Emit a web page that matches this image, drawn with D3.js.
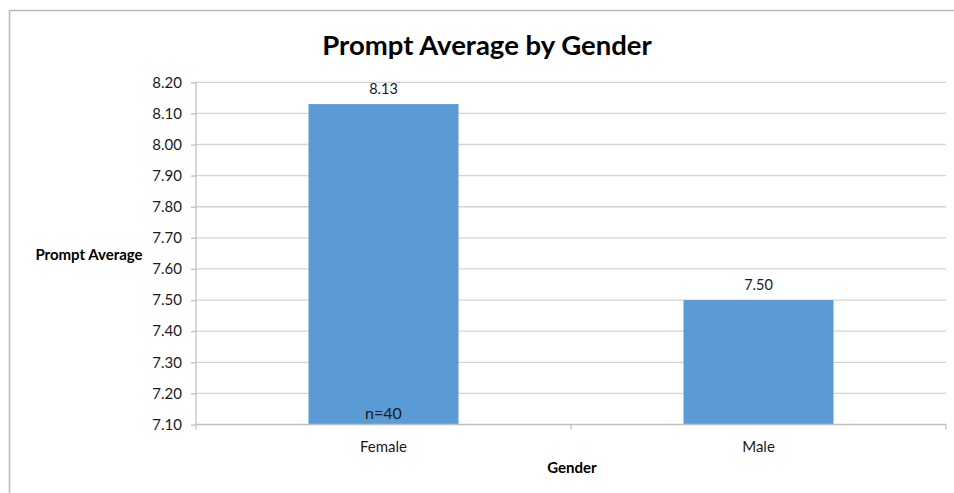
<!DOCTYPE html>
<html>
<head>
<meta charset="utf-8">
<script src="https://cdn.jsdelivr.net/npm/d3@7"></script>
<style>
  html, body { margin: 0; padding: 0; background: #fff; }
  svg { display: block; font-family: Lato, "Open Sans", sans-serif; }
</style>
</head>
<body>
<svg id="chart" width="954" height="493"></svg>
<script>
// Chart data
const categories = ["Female", "Male"];
const averages = [8.13, 7.50];
const valueLabels = ["8.13", "7.50"];
const yTicks = [7.1, 7.2, 7.3, 7.4, 7.5, 7.6, 7.7, 7.8, 7.9, 8.0, 8.1, 8.2];
const notes = ["n=40", ""];

const svg = d3.select("#chart");
const plotLeft = 196, plotRight = 946, plotTop = 82.3, plotBottom = 424.5;

// Outer frame (top and left edges)
svg.append("path")
  .attr("d", "M9.5,493 V10.5 H954")
  .attr("fill", "none")
  .attr("stroke", "#b8b8b8")
  .attr("stroke-width", 1.5);

const x = d3.scaleBand().domain(categories).range([plotLeft, plotRight]).paddingInner(0).paddingOuter(0);
const y = d3.scaleLinear().domain([7.1, 8.2]).range([plotBottom, plotTop]);

// Horizontal gridlines
svg.append("g")
  .selectAll("line")
  .data(yTicks.slice(1))
  .join("line")
  .attr("x1", plotLeft).attr("x2", plotRight)
  .attr("y1", d => y(d)).attr("y2", d => y(d))
  .attr("stroke", "#d4d4d4")
  .attr("stroke-width", 1.3);

// Bars
const barW = x.bandwidth() * 0.4;
svg.append("g")
  .selectAll("rect")
  .data(categories)
  .join("rect")
  .attr("x", d => x(d) + (x.bandwidth() - barW) / 2)
  .attr("width", barW)
  .attr("y", (d, i) => y(averages[i]))
  .attr("height", (d, i) => y(7.1) - y(averages[i]))
  .attr("fill", "#5b9bd5");

// Y axis
const yAxis = svg.append("g")
  .attr("transform", `translate(${plotLeft},0)`)
  .call(d3.axisLeft(y).tickValues(yTicks).tickFormat(d3.format(".2f")).tickSize(5).tickPadding(9));
yAxis.select(".domain").attr("stroke", "#c0c0c0").attr("stroke-width", 1.3).attr("d", `M0,${plotTop}V${plotBottom}`);
yAxis.selectAll(".tick line").attr("stroke", "#c0c0c0").attr("stroke-width", 1.3);
yAxis.selectAll(".tick text").attr("font-size", 15).attr("fill", "#1a1a1a").attr("font-family", "Lato, sans-serif");

// X axis baseline with category separators
const xAxisG = svg.append("g").attr("transform", `translate(0,${plotBottom})`);
xAxisG.append("line").attr("x1", plotLeft).attr("x2", plotRight).attr("y1", 0).attr("y2", 0)
  .attr("stroke", "#c0c0c0").attr("stroke-width", 1.3);
const seps = categories.map(c => x(c)).concat([x(categories[categories.length - 1]) + x.bandwidth()]);
xAxisG.selectAll(".sep").data(seps).join("line")
  .attr("class", "sep")
  .attr("x1", d => d).attr("x2", d => d).attr("y1", 0).attr("y2", 5)
  .attr("stroke", "#c0c0c0").attr("stroke-width", 1.3);
xAxisG.selectAll(".cat").data(categories).join("text")
  .attr("class", "cat")
  .attr("x", d => x(d) + x.bandwidth() / 2)
  .attr("y", 27)
  .attr("text-anchor", "middle")
  .attr("font-size", 15)
  .attr("fill", "#1a1a1a")
  .text(d => d);

// Value labels above bars
svg.append("g").selectAll("text").data(categories).join("text")
  .attr("x", d => x(d) + x.bandwidth() / 2)
  .attr("y", (d, i) => y(averages[i]) - 10)
  .attr("text-anchor", "middle")
  .attr("font-size", 14.5)
  .attr("fill", "#1a1a1a")
  .text((d, i) => valueLabels[i]);

// Sample-size notes inside bars
svg.append("g").selectAll("text").data(categories).join("text")
  .attr("x", d => x(d) + x.bandwidth() / 2)
  .attr("y", plotBottom - 6)
  .attr("text-anchor", "middle")
  .attr("font-size", 16)
  .attr("fill", "#1a1a1a")
  .text((d, i) => notes[i]);

// Title
svg.append("text")
  .attr("x", 487).attr("y", 55)
  .attr("text-anchor", "middle")
  .attr("font-size", 27.5)
  .attr("font-weight", "bold")
  .attr("fill", "#000")
  .text("Prompt Average by Gender");

// Axis titles
svg.append("text")
  .attr("x", 89).attr("y", 260)
  .attr("text-anchor", "middle")
  .attr("font-size", 15)
  .attr("font-weight", "bold")
  .attr("fill", "#000")
  .text("Prompt Average");

svg.append("text")
  .attr("x", 572).attr("y", 473)
  .attr("text-anchor", "middle")
  .attr("font-size", 15)
  .attr("font-weight", "bold")
  .attr("fill", "#000")
  .text("Gender");
</script>
</body>
</html>
